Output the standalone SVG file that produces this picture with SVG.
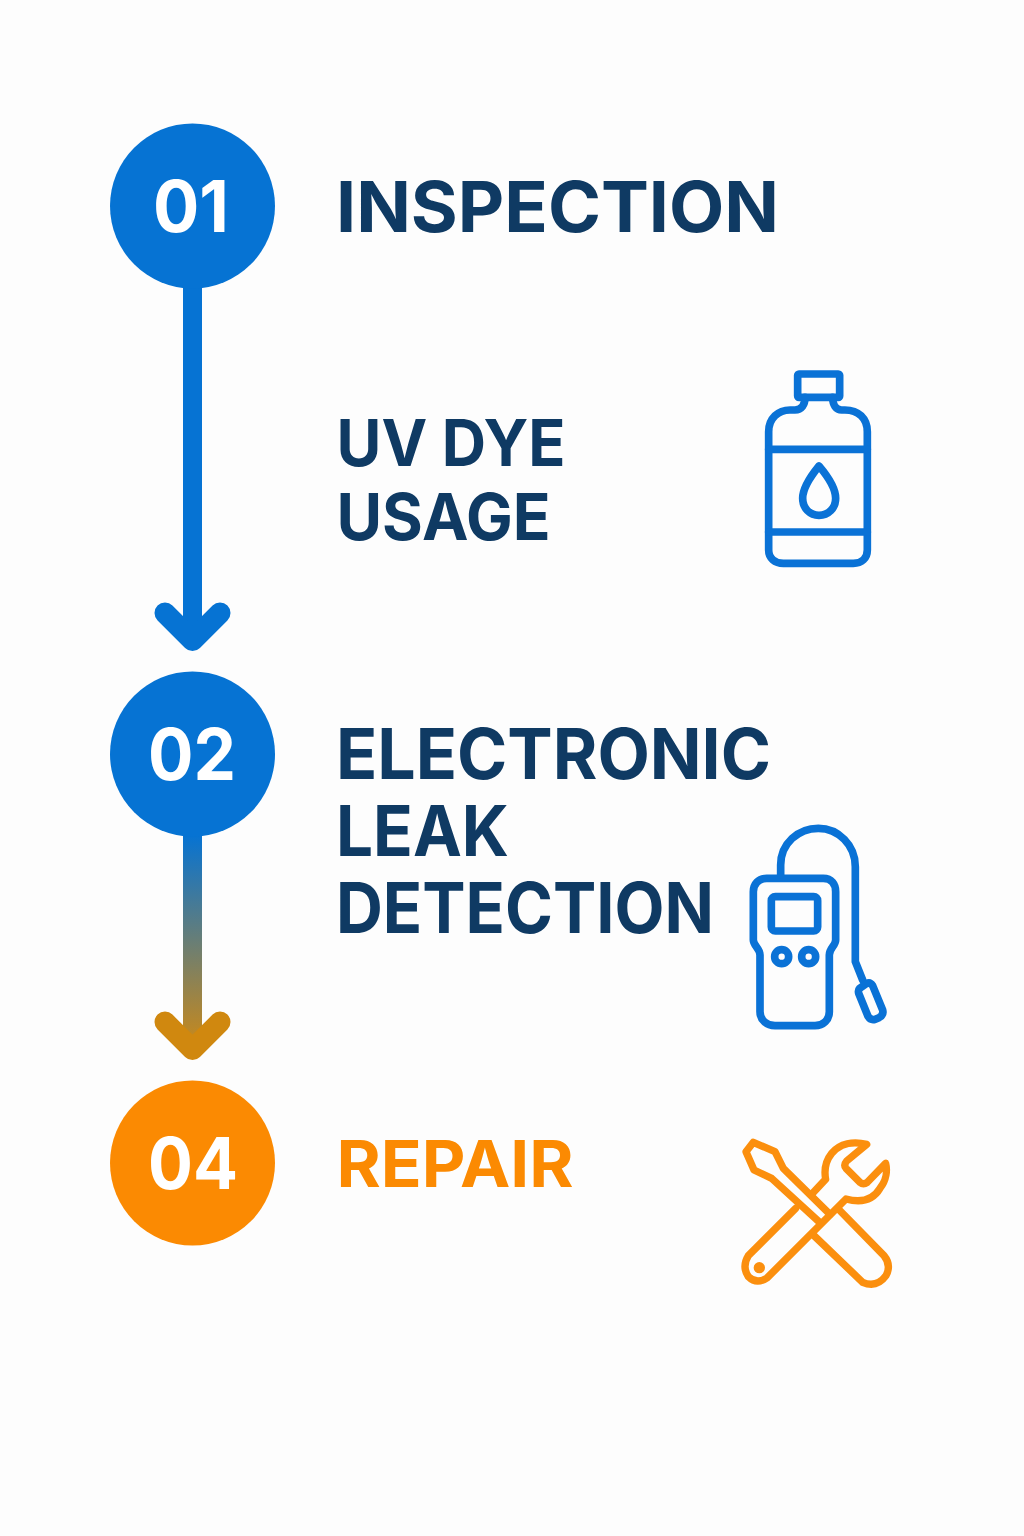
<svg xmlns="http://www.w3.org/2000/svg" width="1024" height="1536" viewBox="0 0 1024 1536">
<style>
text{font-family:Inter,"Liberation Sans",sans-serif;font-weight:700}
.num{fill:#fff;font-size:71px}
.t{fill:#0f3a63;font-size:70px}
.t2{fill:#0f3a63;font-size:65px}
.o{fill:#fb8a02;font-size:65px}
.ic{fill:none;stroke-width:23;stroke-linecap:round;stroke-linejoin:round}
.blue{stroke:#0a72d6}
.org{stroke:#fb8f0e;stroke-width:22}
.c{fill:none;stroke-width:21;stroke-linecap:round;stroke-linejoin:round}
</style>
<defs>
<linearGradient id="g" gradientUnits="userSpaceOnUse" x1="0" y1="835" x2="0" y2="1055">
<stop offset="0" stop-color="#0673d3"/><stop offset="1" stop-color="#d28a12"/>
</linearGradient>
</defs>
<rect width="1024" height="1536" fill="#fdfdfd"/>
<g id="connectors">
<path stroke="#0673d3" stroke-width="19" fill="none" d="M192.500 280V630"/>
<path class="c" stroke="#0673d3" d="M165 613L192.500 640.500L220 613"/>
<path stroke="url(#g)" stroke-width="19" fill="none" d="M192.500 830V1040"/>
<path class="c" stroke="#d0880f" d="M165 1022L192.500 1049.500L220 1022"/>
</g>
<g id="step-01">
<circle cx="192.500" cy="206" r="82.500" fill="#0673d3"/>
<text class="num" x="153" y="232" textLength="76" lengthAdjust="spacingAndGlyphs">01</text>
<text class="t" x="336" y="232" textLength="443" lengthAdjust="spacingAndGlyphs">INSPECTION</text>
</g>
<g id="step-uv">
<text class="t2" x="336.500" y="466" textLength="229" lengthAdjust="spacingAndGlyphs">UV DYE</text>
<text class="t2" x="336.500" y="540" textLength="214" lengthAdjust="spacingAndGlyphs">USAGE</text>
<g transform="translate(730 360) scale(.3333)">
<rect class="ic blue" x="203" y="42" width="126" height="70" rx="4"/>
<path class="ic blue" d="M225 112C225 135 215 150 195 150H180C145 150 116 175 116 215V570C116 595 135 610 160 610H370C395 610 412 595 412 570V215C412 175 385 150 345 150H335C318 150 308 135 308 112"/>
<path class="ic blue" d="M116 268H412M116 516H412"/>
<path class="ic blue" d="M267 318C245 345 218 385 218 415C218 445 240 466 267 466C295 466 317 445 317 415C317 385 290 345 267 318Z"/>
</g>
</g>
<g id="step-02">
<circle cx="192.500" cy="754" r="82.500" fill="#0673d3"/>
<text class="num" x="148" y="780" textLength="88" lengthAdjust="spacingAndGlyphs">02</text>
<text class="t" x="336" y="779" textLength="435" lengthAdjust="spacingAndGlyphs">ELECTRONIC</text>
<text class="t" x="336" y="856" textLength="173" lengthAdjust="spacingAndGlyphs">LEAK</text>
<text class="t" x="336" y="933" textLength="378" lengthAdjust="spacingAndGlyphs">DETECTION</text>
<g transform="translate(730 815) scale(.3333)">
<path class="ic blue" d="M110 190H280C305 190 317 208 317 230V375C317 392 298 400 298 420V590C298 615 280 632 255 632H135C110 632 90 615 90 590V420C90 400 70 392 70 375V230C70 208 85 190 110 190Z"/>
<rect class="ic blue" x="124" y="245" width="139" height="103" rx="12"/>
<circle class="ic blue" cx="155" cy="425" r="21"/>
<circle class="ic blue" cx="236" cy="425" r="21"/>
<path class="ic blue" d="M152 180V150C152 85 205 40 265 40C325 40 376 90 376 155V440L398 495"/>
<path class="ic blue" d="M388 521L409 506Q420 500 428 512L458 585Q462 600 447 608L436 613Q422 617 414 604L386 535Q384 525 388 521Z"/>
</g>
</g>
<g id="step-04">
<circle cx="192.500" cy="1163" r="82.500" fill="#fb8a02"/>
<text class="num" x="148" y="1189" textLength="90" lengthAdjust="spacingAndGlyphs">04</text>
<text class="o" x="336.500" y="1187" textLength="237" lengthAdjust="spacingAndGlyphs">REPAIR</text>
<g transform="translate(730 1125) scale(.3333)">
<path class="ic org" d="M272 295L125 160L72 135L48 80L70 52L135 80L160 130L300 268"/>
<path class="ic org" d="M325 252L462 392Q485 420 468 452Q440 490 398 472L250 330"/>
<path class="ic org" d="M197 250L55 392Q35 425 55 455Q80 480 112 458L348 222C385 232 425 232 450 190C470 165 472 135 467 115L412 172Q400 180 390 172L348 130Q340 120 350 108L410 58C370 48 330 55 305 85C285 110 282 135 287 163L245 208"/>
<circle cx="88" cy="428" r="17" fill="#fb8f0e"/>
</g>
</g>
</svg>
